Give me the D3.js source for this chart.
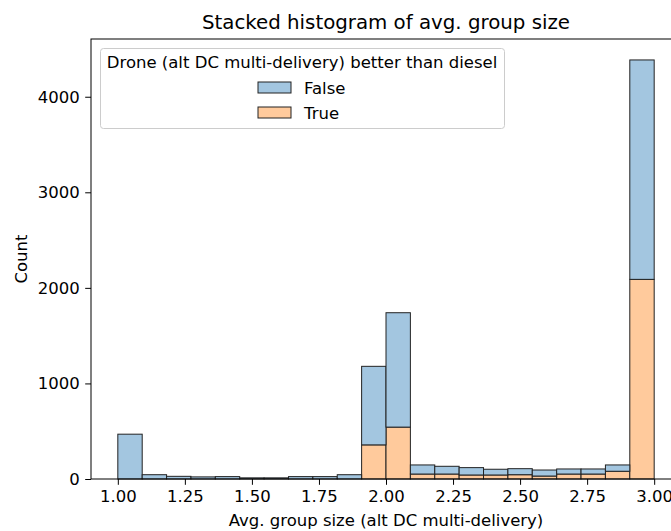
<!DOCTYPE html>
<html>
<head>
<meta charset="utf-8">
<script src="https://cdn.jsdelivr.net/npm/d3@7"></script>
<style>
  html, body { margin: 0; padding: 0; background: #fff; }
  svg { display: block; font-family: "DejaVu Sans", sans-serif; }
</style>
</head>
<body>
<svg id="chart" width="671" height="531"></svg>
<script>
// Histogram bins: 22 equal-width bins spanning 1.0 .. 3.0
const binLow = 1.0;
const binHigh = 3.0;
const binCount = 22;

// Counts per bin for each hue level (stacked: True at bottom, False on top)
const trueCounts  = [0, 0, 0, 0, 0, 0, 0, 0, 0, 0, 357, 543, 52, 52, 42, 42, 45, 31, 52, 52, 81, 2089];
const falseCounts = [469, 45, 28, 22, 25, 12, 12, 25, 25, 45, 822, 1197, 95, 81, 77, 60, 63, 63, 53, 53, 66, 2296];

const seriesNames = ["False", "True"];
const xTickValues = [1.00, 1.25, 1.50, 1.75, 2.00, 2.25, 2.50, 2.75, 3.00];
const yTickValues = [0, 1000, 2000, 3000, 4000];

const colors = { "False": "#a3c6e0", "True": "#ffca9c" };
const edge = "#222";

const svg = d3.select("#chart");
const m = { left: 91, right: 681, top: 39, bottom: 479 };

const x = d3.scaleLinear().domain([0.9, 3.1]).range([m.left, m.right]);
const yMax = d3.max(trueCounts.map((t, i) => t + falseCounts[i])) * 1.05;
const y = d3.scaleLinear().domain([0, yMax]).range([m.bottom, m.top]);

const step = (binHigh - binLow) / binCount;
const bins = d3.range(binCount).map(i => ({
  x0: binLow + i * step,
  x1: binLow + (i + 1) * step,
  t: trueCounts[i],
  f: falseCounts[i]
}));

const plot = svg.append("g");

// True layer (bottom)
plot.selectAll("rect.true").data(bins).join("rect")
  .attr("class", "true")
  .attr("x", d => x(d.x0))
  .attr("width", d => x(d.x1) - x(d.x0))
  .attr("y", d => y(d.t))
  .attr("height", d => y(0) - y(d.t))
  .attr("fill", colors["True"])
  .attr("stroke", edge)
  .attr("stroke-width", 1);

// False layer stacked on top
plot.selectAll("rect.false").data(bins).join("rect")
  .attr("class", "false")
  .attr("x", d => x(d.x0))
  .attr("width", d => x(d.x1) - x(d.x0))
  .attr("y", d => y(d.t + d.f))
  .attr("height", d => y(d.t) - y(d.t + d.f))
  .attr("fill", colors["False"])
  .attr("stroke", edge)
  .attr("stroke-width", 1);

// Axes
const fontSize = 16.5;
const xAxis = d3.axisBottom(x).tickValues(xTickValues).tickFormat(d3.format(".2f")).tickSizeOuter(0).tickSize(5.8).tickPadding(5.5);
const yAxis = d3.axisLeft(y).tickValues(yTickValues).tickFormat(d3.format("d")).tickSizeOuter(0).tickSize(5.8).tickPadding(5.5);

const gx = svg.append("g").attr("transform", `translate(0,${m.bottom})`).call(xAxis);
const gy = svg.append("g").attr("transform", `translate(${m.left},0)`).call(yAxis);
[gx, gy].forEach(g => {
  g.select(".domain").remove();
  g.selectAll(".tick line").attr("stroke", "#000").attr("stroke-width", 1);
  g.selectAll(".tick text").attr("fill", "#000").style("font-size", fontSize + "px").style("font-family", "DejaVu Sans");
});

// Spines
svg.append("rect")
  .attr("x", m.left).attr("y", m.top)
  .attr("width", m.right - m.left).attr("height", m.bottom - m.top)
  .attr("fill", "none").attr("stroke", "#000").attr("stroke-width", 1);

// Title and axis labels
svg.append("text")
  .attr("x", (m.left + m.right) / 2).attr("y", 29)
  .attr("text-anchor", "middle")
  .style("font-size", "19.8px")
  .text("Stacked histogram of avg. group size");

svg.append("text")
  .attr("x", (m.left + m.right) / 2).attr("y", 526)
  .attr("text-anchor", "middle")
  .style("font-size", fontSize + "px")
  .text("Avg. group size (alt DC multi-delivery)");

svg.append("text")
  .attr("transform", `translate(27,${(m.top + m.bottom) / 2}) rotate(-90)`)
  .attr("text-anchor", "middle")
  .style("font-size", fontSize + "px")
  .text("Count");

// Legend
const lg = svg.append("g");
lg.append("rect")
  .attr("x", 100.5).attr("y", 48.5)
  .attr("width", 404).attr("height", 80)
  .attr("rx", 3)
  .attr("fill", "#fff").attr("fill-opacity", 0.8)
  .attr("stroke", "#ccc").attr("stroke-width", 1);
lg.append("text")
  .attr("x", 302).attr("y", 68)
  .attr("text-anchor", "middle")
  .style("font-size", fontSize + "px")
  .text("Drone (alt DC multi-delivery) better than diesel");

seriesNames.forEach((name, i) => {
  const yy = 82 + i * 25;
  lg.append("rect")
    .attr("x", 258).attr("y", yy)
    .attr("width", 33).attr("height", 11)
    .attr("fill", colors[name]).attr("stroke", edge).attr("stroke-width", 1);
  lg.append("text")
    .attr("x", 304).attr("y", yy + 12)
    .style("font-size", fontSize + "px")
    .text(name);
});
</script>
</body>
</html>
